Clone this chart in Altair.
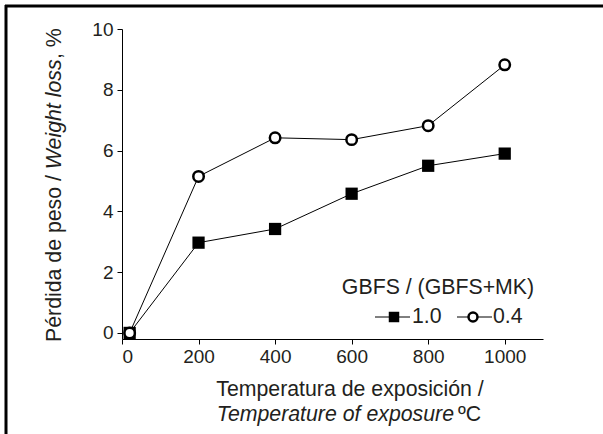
import altair as alt
import pandas as pd

temps = [20, 200, 400, 600, 800, 1000]
loss_10 = [0.0, 2.97, 3.42, 4.58, 5.50, 5.90]
loss_04 = [0.0, 5.15, 6.42, 6.36, 6.82, 8.82]
series = ["1.0", "0.4"]
x_ticks = [0, 200, 400, 600, 800, 1000]
y_ticks = [0, 2, 4, 6, 8, 10]

rows = []
for t, v in zip(temps, loss_10):
    rows.append({"temp": t, "loss": v, "ratio": series[0]})
for t, v in zip(temps, loss_04):
    rows.append({"temp": t, "loss": v, "ratio": series[1]})
df = pd.DataFrame(rows)

FONT = "Liberation Sans"
TXT = "#231f20"
W, H = 421, 310
TS = 19    # tick labels
FS = 21.3  # titles

xs = alt.Scale(domain=[0, 1100], nice=False, zero=False)
ys = alt.Scale(domain=[-0.2, 10], nice=False, zero=False)

x_enc = alt.X("temp:Q", scale=xs, axis=alt.Axis(values=x_ticks, title=None, grid=False, format="d",
              domainColor="black", tickColor="black", tickSize=5, labelFontSize=TS,
              labelFont=FONT, labelColor=TXT, labelPadding=3))
y_enc = alt.Y("loss:Q", scale=ys, axis=alt.Axis(values=y_ticks, title=None, grid=False, format="d",
              domainColor="black", tickColor="black", tickSize=5, labelFontSize=TS,
              labelFont=FONT, labelColor=TXT, labelPadding=4))

base = alt.Chart(df)
lines = base.mark_line(color="black", strokeWidth=1).encode(x=x_enc, y=y_enc, detail="ratio:N")
squares = base.transform_filter(alt.datum.ratio == "1.0").mark_point(
    shape="square", filled=True, color="black", size=150, opacity=1).encode(x=x_enc, y=y_enc)
circles = base.transform_filter(alt.datum.ratio == "0.4").mark_point(
    shape="circle", filled=True, fill="white", stroke="black", strokeWidth=2.5,
    size=110, opacity=1).encode(x=x_enc, y=y_enc)

one = pd.DataFrame({"a": [0]})

def txt(s, x, y, align="center", angle=0, italic=False, size=FS):
    kw = dict(text=s, align=align, baseline="middle", font=FONT, fontSize=size, color=TXT)
    if angle:
        kw["angle"] = angle
    if italic:
        kw["fontStyle"] = "italic"
    return alt.Chart(one).mark_text(**kw).encode(x=alt.value(x), y=alt.value(y))

# y title pieces chained bottom-to-top
y0 = 313
seg1 = 8.116 * FS
seg2 = 5.168 * FS
texts = [
    txt("Pérdida de peso / ", -67, y0, align="left", angle=270),
    txt("Weight loss", -67, y0 - seg1, align="left", angle=270, italic=True),
    txt(", %", -67, y0 - seg1 - seg2, align="left", angle=270),
    txt("Temperatura de exposición /", 228, 361),
    txt("Temperature of exposure", 332, 386, align="right", italic=True),
    txt("ºC", 336, 386, align="left"),
    txt("GBFS / (GBFS+MK)", 316, 259),
    txt("1.0", 290, 288, align="left"),
    txt("0.4", 371, 288, align="left"),
]

leg = [
    alt.Chart(one).mark_rule(color="black", strokeWidth=1).encode(
        x=alt.value(253), x2=alt.value(288), y=alt.value(288)),
    alt.Chart(one).mark_rule(color="black", strokeWidth=1).encode(
        x=alt.value(335), x2=alt.value(370), y=alt.value(288)),
    alt.Chart(one).mark_point(shape="square", filled=True, color="black", size=110, opacity=1).encode(
        x=alt.value(272), y=alt.value(288)),
    alt.Chart(one).mark_point(shape="circle", filled=True, fill="white", stroke="black",
                              strokeWidth=2.5, size=80, opacity=1).encode(
        x=alt.value(351), y=alt.value(288)),
]

frame = [
    alt.Chart(one).mark_rule(color="black", strokeWidth=3).encode(
        x=alt.value(-116), y=alt.value(-24), y2=alt.value(420)),
    alt.Chart(one).mark_rule(color="black", strokeWidth=3).encode(
        x=alt.value(-117), x2=alt.value(490), y=alt.value(-23)),
]

chart = alt.layer(lines, squares, circles, *texts, *leg, *frame).properties(
    width=W, height=H,
    autosize=alt.AutoSizeParams(type="none"),
    padding={"left": 122, "top": 29, "right": 60, "bottom": 95},
    background="white",
).configure_view(stroke=None)

chart.save("out.html", embed_options={"renderer": "svg", "actions": False})
